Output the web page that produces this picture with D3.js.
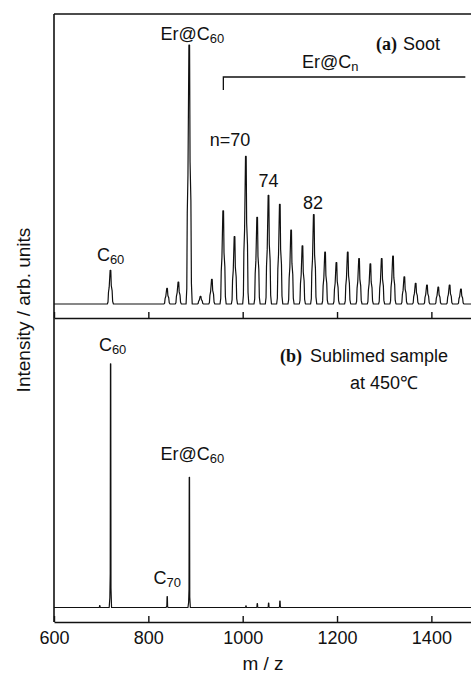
<!DOCTYPE html>
<html>
<head>
<meta charset="utf-8">
<script src="https://cdn.jsdelivr.net/npm/d3@7/dist/d3.min.js"></script>
<style>
body { margin: 0; background: #fff; }
text { font-family: "Liberation Sans", Arial, sans-serif; fill: #111; }
</style>
</head>
<body>
<svg id="chart" width="471" height="679"></svg>
<script>
// tick values of the m/z axis
var xTicks = [600, 800, 1000, 1200, 1400];

// (a) soot: peak m/z and intensity (arb., Er@C60 = 100)
var sootMz = [720, 840, 864, 887, 911, 935, 959, 983, 1007, 1031, 1055, 1079, 1103, 1127, 1151,
	1175, 1199, 1223, 1247, 1271, 1295, 1319, 1343, 1367, 1391, 1415, 1439, 1463];
var sootInt = [13, 6, 8.5, 100, 3, 9.5, 36, 26, 57, 33.5, 42, 38.5, 28.5, 22.5, 34.5,
	20, 16, 20, 17.5, 15.5, 17.5, 18.5, 10.5, 8, 7.3, 6.5, 7.3, 5.8];

// (b) sublimed sample at 450C
var sublMz = [697, 720, 840, 887, 1007, 1031, 1055, 1079];
var sublInt = [0.8, 101, 4.5, 54, 0.7, 1.6, 1.8, 2.7];

var svg = d3.select("#chart");

var left = 54, right = 471;
var x = d3.scaleLinear().domain([600, 1484]).range([left, right]);

var ySoot = d3.scaleLinear().domain([0, 112]).range([304, 14]);
var ySubl = d3.scaleLinear().domain([0, 120]).range([607.5, 318]);

svg.append("clipPath").attr("id", "clip")
	.append("rect").attr("x", left).attr("y", 14).attr("width", right - left).attr("height", 608);

// peak shape, offsets in m/z and fraction of peak height
var wideShape = [[-7, 0], [-5.5, 0.06], [-4.5, 0.35], [-3, 0.5], [-1, 1], [0.4, 1], [1.4, 0.55], [3.2, 0.4], [4.3, 0.08], [6, 0]];
var thinShape = [[-3, 0], [-1.6, 0.04], [-0.8, 0.14], [-0.3, 1], [0.3, 1], [0.8, 0.08], [2, 0]];

function spectrum(mz, vals, shape){
	var pts = [[600, 0]];
	mz.forEach(function(m, i){
		shape.forEach(function(s){ pts.push([m + s[0], vals[i] * s[1]]); });
	});
	pts.push([1490, 0]);
	return pts;
}

function drawPanel(mz, vals, shape, y){
	var line = d3.line()
		.x(function(d){ return x(d[0]); })
		.y(function(d){ return y(d[1]); });
	svg.append("path")
		.attr("clip-path", "url(#clip)")
		.attr("d", line(spectrum(mz, vals, shape)))
		.attr("fill", "none")
		.attr("stroke", "#111")
		.attr("stroke-width", 1.2)
		.attr("stroke-linejoin", "round");
}

drawPanel(sootMz, sootInt, wideShape, ySoot);
drawPanel(sublMz, sublInt, thinShape, ySubl);

// axes
function axis(yPos, labels){
	var a = d3.axisBottom(x).tickValues(xTicks).tickSizeInner(-6).tickSizeOuter(0).tickPadding(9)
		.tickFormat(labels ? d3.format("d") : "");
	var g = svg.append("g").attr("transform", "translate(0," + yPos + ")").call(a);
	g.select(".domain").attr("stroke", "#111").attr("stroke-width", 1.6);
	g.selectAll(".tick line").attr("stroke", "#111").attr("stroke-width", 1.4);
	g.selectAll(".tick text").attr("font-size", 18).attr("fill", "#111")
		.attr("font-family", "Liberation Sans, Arial, sans-serif");
	return g;
}
axis(318, false);
axis(622, true);

svg.append("line").attr("x1", left).attr("x2", right).attr("y1", 14).attr("y2", 14)
	.attr("stroke", "#111").attr("stroke-width", 1.6);
svg.append("line").attr("x1", left).attr("x2", left).attr("y1", 14).attr("y2", 622)
	.attr("stroke", "#111").attr("stroke-width", 1.6);

// labels with optional subscript
function label(px, py, main, sub, size){
	size = size || 18;
	var t = svg.append("text").attr("x", px).attr("y", py)
		.attr("text-anchor", "middle").attr("font-size", size);
	t.append("tspan").text(main);
	if (sub) t.append("tspan").attr("font-size", size * 0.72).attr("dy", 3).text(sub);
	return t;
}

function peakTop(mz, vals, y, m){ return y(vals[mz.indexOf(m)]); }

label(x(720), peakTop(sootMz, sootInt, ySoot, 720) - 9, "C", "60");
label(x(887) + 3, peakTop(sootMz, sootInt, ySoot, 887) - 5, "Er@C", "60");
label(x(1007) - 16, peakTop(sootMz, sootInt, ySoot, 1007) - 10, "n=70");
label(x(1055), peakTop(sootMz, sootInt, ySoot, 1055) - 8, "74");
label(x(1151) - 1, peakTop(sootMz, sootInt, ySoot, 1151) - 6, "82");

label(x(720) + 2, peakTop(sublMz, sublInt, ySubl, 720) - 13, "C", "60");
label(x(887) + 3, peakTop(sublMz, sublInt, ySubl, 887) - 17, "Er@C", "60");
label(x(840), peakTop(sublMz, sublInt, ySubl, 840) - 13, "C", "70");

// Er@Cn bracket
var bracketY = 77;
svg.append("path")
	.attr("d", "M" + x(959) + "," + (bracketY + 13) + "V" + bracketY + "H" + x(1472))
	.attr("fill", "none").attr("stroke", "#111").attr("stroke-width", 1.3);
label((x(959) + x(1472)) / 2 - 14, bracketY - 9, "Er@C", "n");

// panel titles
var ta = svg.append("text").attr("x", 376).attr("y", 50).attr("font-size", 18);
ta.append("tspan").attr("font-family", "Liberation Serif, Times New Roman, serif").attr("font-weight", "bold").text("(a)");
ta.append("tspan").attr("dx", 6).text("Soot");

var tb = svg.append("text").attr("x", 280).attr("y", 362).attr("font-size", 18);
tb.append("tspan").attr("font-family", "Liberation Serif, Times New Roman, serif").attr("font-weight", "bold").text("(b)");
tb.append("tspan").attr("dx", 8).text("Sublimed sample");
svg.append("text").attr("x", 350).attr("y", 389).attr("font-size", 18).text("at 450℃");

// axis titles
svg.append("text").attr("x", 263).attr("y", 670).attr("text-anchor", "middle")
	.attr("font-size", 19).text("m / z");
svg.append("text").attr("transform", "translate(30,310) rotate(-90)")
	.attr("text-anchor", "middle").attr("font-size", 19).text("Intensity / arb. units");
</script>
</body>
</html>
